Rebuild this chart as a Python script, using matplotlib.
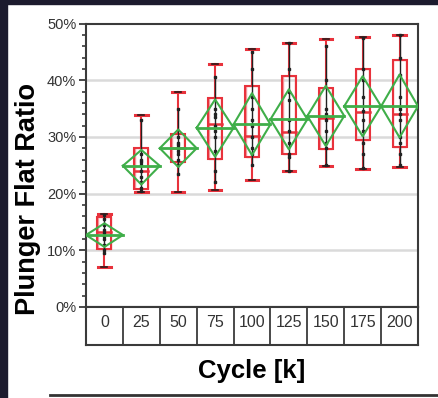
import numpy as np
import matplotlib.pyplot as plt
from matplotlib.ticker import MultipleLocator, FuncFormatter

plt.rcParams['font.family'] = ['Liberation Sans', 'DejaVu Sans']

# dados (%)
cycles = ['0', '25', '50', '75', '100', '125', '150', '175', '200']
wmin = [7.1, 20.2, 20.2, 20.7, 22.4, 24.0, 24.9, 24.3, 24.7]
q1 = [10.2, 20.8, 25.5, 26.1, 26.4, 26.9, 27.8, 29.4, 28.3]
med = [13.3, 23.9, 28.0, 32.2, 30.2, 30.8, 33.3, 34.4, 34.0]
q3 = [15.8, 28.1, 30.5, 36.9, 38.9, 40.8, 38.6, 41.9, 43.6]
wmax = [16.4, 33.9, 37.9, 42.8, 45.5, 46.6, 47.2, 47.6, 48.0]
mean = [12.7, 24.9, 28.0, 31.6, 32.2, 33.1, 33.7, 35.4, 35.4]
ci_lo = [10.6, 21.6, 24.7, 26.5, 26.8, 27.8, 28.4, 30.1, 29.9]
ci_hi = [14.75, 27.7, 31.3, 36.6, 37.7, 38.4, 39.0, 40.7, 41.0]
pontos = [
    [16.3, 15.5, 14.5, 13.5, 13.0, 12.5, 12.0, 11.0, 10.0, 9.5],
    [33.0, 27.0, 26.0, 25.5, 25.0, 24.0, 23.0, 22.0, 21.0, 20.5],
    [35.0, 30.0, 29.0, 28.5, 28.0, 27.5, 27.0, 26.0, 25.0, 23.5],
    [40.5, 35.0, 34.0, 33.5, 32.0, 31.0, 30.0, 27.5, 24.0, 22.0],
    [45.0, 42.0, 37.0, 35.0, 33.0, 32.0, 30.0, 28.0, 27.0, 25.0],
    [46.5, 42.0, 38.0, 36.5, 33.0, 31.0, 29.0, 27.0, 26.5, 24.0],
    [46.0, 40.0, 35.0, 34.0, 33.0, 31.0, 29.0, 28.0, 25.0],
    [47.5, 42.0, 40.0, 37.0, 34.5, 33.0, 31.0, 29.0, 27.0, 24.5],
    [48.0, 44.0, 41.0, 37.0, 35.0, 34.0, 33.0, 30.0, 29.0, 27.0, 25.0],
]

vermelho = '#e8323c'
rosa = '#f29aa0'
verde = '#3fae49'
cinza = '#3a3a3a'

fig = plt.figure(figsize=(4.39, 3.98), dpi=100)
fig.patch.set_facecolor('white')

# faixas escuras da captura de tela
fig.patches.append(plt.Rectangle((0, 0), 7/439, 1, transform=fig.transFigure,
                                 color='#1c1b2e', zorder=0))
fig.patches.append(plt.Rectangle((0, 1-4/398), 1, 4/398, transform=fig.transFigure,
                                 color='#1c1b2e', zorder=0))

ax = fig.add_axes([86/439, 1-307/398, 332/439, 283.5/398])
n = len(cycles)
x = np.arange(n)

for i in range(n):
    xi = x[i]
    # whiskers
    ax.plot([xi, xi], [wmin[i], q1[i]], color=vermelho, lw=1.5, zorder=3)
    ax.plot([xi, xi], [q3[i], wmax[i]], color=vermelho, lw=1.5, zorder=3)
    for w in (wmin[i], wmax[i]):
        ax.plot([xi-0.17, xi+0.17], [w, w], color=vermelho, lw=2.2, zorder=3)
        ax.plot([xi-0.08, xi+0.08], [w, w], color='#2a1a1a', lw=1.2, zorder=4)
    # box
    ax.add_patch(plt.Rectangle((xi-0.17, q1[i]), 0.34, q3[i]-q1[i], fill=False,
                               ec=rosa, lw=1.0, zorder=3))
    ax.add_patch(plt.Rectangle((xi-0.19, q1[i]), 0.38, q3[i]-q1[i], fill=False,
                               ec=vermelho, lw=1.5, zorder=3))
    ax.plot([xi-0.19, xi+0.19], [med[i], med[i]], color=vermelho, lw=1.8, zorder=3)
    # pontos
    p = pontos[i]
    ax.plot([xi, xi], [min(p), max(p)], color='#222222', lw=1.0, zorder=4)
    ax.plot(np.full(len(p), xi), p, 's', color='#222222', ms=1.8, zorder=5)
    # diamante da media
    ax.plot([xi-0.5, xi, xi+0.5, xi, xi-0.5],
            [mean[i], ci_hi[i], mean[i], ci_lo[i], mean[i]],
            color=verde, lw=1.5, zorder=6)
    ax.plot([xi-0.5, xi+0.5], [mean[i], mean[i]], color=verde, lw=2.0, zorder=6)

ax.set_xlim(-0.5, n-0.5)
ax.set_ylim(0, 50)
ax.set_xticks([])
ax.yaxis.set_major_locator(MultipleLocator(10))
ax.yaxis.set_minor_locator(MultipleLocator(2))
ax.yaxis.set_major_formatter(FuncFormatter(lambda v, pos: f'{v:.0f}%'))
ax.tick_params(axis='y', which='major', direction='out', length=5, width=1.3,
               color=cinza, labelsize=10.5, labelcolor='#333333', pad=2)
ax.tick_params(axis='y', which='minor', direction='out', length=3, width=1.2, color=cinza)
for v in (10, 20, 30, 40):
    ax.axhline(v, color='#dadada', lw=1.8, zorder=1)
for s in ax.spines.values():
    s.set_color(cinza)
    s.set_linewidth(1.5)

# tabela das categorias
tab = fig.add_axes([86/439, 1-345/398, 332/439, 38/398])
tab.set_xlim(-0.5, n-0.5)
tab.set_ylim(0, 1)
tab.set_xticks([])
tab.set_yticks([])
for b in np.arange(0.5, n-0.5):
    tab.axvline(b, color=cinza, lw=1.3)
for i in range(n):
    tab.text(x[i], 0.6, cycles[i], ha='center', va='center', fontsize=11.5, color='#333333')
for s in tab.spines.values():
    s.set_color(cinza)
    s.set_linewidth(1.5)

fig.text(28/439, 1-199/398, 'Plunger Flat Ratio', rotation=90, ha='center', va='center',
         fontsize=19.5, fontweight='bold')
fig.text(252/439, 1-371/398, 'Cycle [k]', ha='center', va='center',
         fontsize=18.5, fontweight='bold')

fig.add_artist(plt.Line2D([50/439, 1], [1-395/398, 1-395/398], color='#333333', lw=2))

fig.savefig('out.png', dpi=100)
